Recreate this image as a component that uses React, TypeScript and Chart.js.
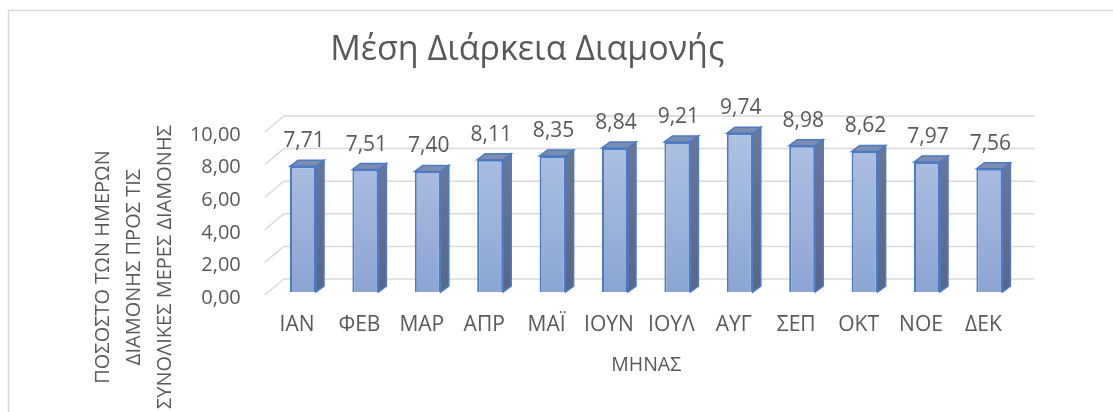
import React, { useEffect, useRef } from "react";
import { Chart, registerables } from "chart.js";

Chart.register(...registerables);

const categories = ["ΙΑΝ", "ΦΕΒ", "ΜΑΡ", "ΑΠΡ", "ΜΑΪ", "ΙΟΥΝ", "ΙΟΥΛ", "ΑΥΓ", "ΣΕΠ", "ΟΚΤ", "ΝΟΕ", "ΔΕΚ"];
const values = [7.71, 7.51, 7.4, 8.11, 8.35, 8.84, 9.21, 9.74, 8.98, 8.62, 7.97, 7.56];
const chartTitle = "Μέση Διάρκεια Διαμονής";
const yTitleLines = ["ΠΟΣΟΣΤΟ ΤΩΝ ΗΜΕΡΩΝ", "ΔΙΑΜΟΝΗΣ ΠΡΟΣ ΤΙΣ", "ΣΥΝΟΛΙΚΕΣ ΜΕΡΕΣ ΔΙΑΜΟΝΗΣ"];
const xTitle = "ΜΗΝΑΣ";
const yMin = 0;
const yMax = 10;
const yStep = 2;

const FONT = "'Open Sans', 'DejaVu Sans', sans-serif";
const TEXT = "#595959";
const GRID = "#d9d9d9";

const fmt = (v: number) => v.toFixed(2).replace(".", ",");

const threeD = {
  id: "threeD",
  beforeDraw(chart: any) {
    const { ctx, width, height } = chart;
    ctx.save();
    ctx.fillStyle = "#ffffff";
    ctx.fillRect(0, 0, width, height);
    ctx.strokeStyle = GRID;
    ctx.lineWidth = 1.5;
    ctx.strokeRect(8.5, 10.5, width + 50, height + 50);
    ctx.restore();
  },
  beforeDatasetsDraw(chart: any) {
    const { ctx, chartArea } = chart;
    const ys = chart.scales.y;
    ctx.save();
    ctx.strokeStyle = GRID;
    ctx.lineWidth = 1.5;
    const fx = chartArea.left - 7;
    for (const t of ys.ticks) {
      const yF = ys.getPixelForValue(t.value);
      ctx.beginPath();
      ctx.moveTo(fx, yF + 3);
      ctx.lineTo(fx + 19, yF - 13);
      ctx.lineTo(chartArea.right + 14, yF - 13);
      ctx.stroke();
    }
    ctx.restore();
  },
  afterDatasetsDraw(chart: any) {
    const { ctx } = chart;
    const meta = chart.getDatasetMeta(0);
    const bdx = 8;
    const bdy = -6;
    ctx.save();
    meta.data.forEach((bar: any, i: number) => {
      const { x, y, base, width } = bar.getProps(["x", "y", "base", "width"], true);
      const l = x - width / 2;
      const r = x + width / 2;
      const sg = ctx.createLinearGradient(0, y, 0, base);
      sg.addColorStop(0, "#66779a");
      sg.addColorStop(1, "#56678a");
      ctx.beginPath();
      ctx.moveTo(r, y);
      ctx.lineTo(r + bdx, y + bdy);
      ctx.lineTo(r + bdx, base + bdy);
      ctx.lineTo(r, base);
      ctx.closePath();
      ctx.fillStyle = sg;
      ctx.fill();
      ctx.strokeStyle = "#4a7bc4";
      ctx.lineWidth = 1.5;
      ctx.stroke();
      ctx.beginPath();
      ctx.moveTo(l, y);
      ctx.lineTo(l + bdx, y + bdy);
      ctx.lineTo(r + bdx, y + bdy);
      ctx.lineTo(r, y);
      ctx.closePath();
      ctx.fillStyle = "#7d8db0";
      ctx.fill();
      ctx.stroke();
      ctx.fillStyle = TEXT;
      ctx.font = `21px ${FONT}`;
      ctx.textAlign = "center";
      ctx.textBaseline = "alphabetic";
      ctx.fillText(fmt(values[i]), x + 1, y + bdy - 13);
    });
    ctx.restore();
  },
  afterDraw(chart: any) {
    const { ctx, chartArea } = chart;
    ctx.save();
    ctx.fillStyle = TEXT;
    ctx.textAlign = "center";
    ctx.textBaseline = "middle";
    ctx.font = `19.5px ${FONT}`;
    ctx.fillText(xTitle, (chartArea.left + chartArea.right) / 2, 365);
    ctx.font = `20px ${FONT}`;
    const xs = [103, 134, 165];
    yTitleLines.forEach((line, i) => {
      ctx.save();
      ctx.translate(xs[i], 267);
      ctx.rotate(-Math.PI / 2);
      ctx.fillText(line, 0, 0);
      ctx.restore();
    });
    ctx.restore();
  },
};

export default function App() {
  const ref = useRef<HTMLCanvasElement | null>(null);
  useEffect(() => {
    if (!ref.current) return;
    const chart = new Chart(ref.current, {
      type: "bar",
      data: {
        labels: categories,
        datasets: [
          {
            data: values,
            backgroundColor: (c: any) => {
              const area = c.chart.chartArea;
              if (!area) return "#9db3da";
              const g = c.chart.ctx.createLinearGradient(0, area.top, 0, area.bottom);
              g.addColorStop(0, "#b0c2e2");
              g.addColorStop(1, "#8ca6d4");
              return g;
            },
            borderColor: "#4a7bc4",
            borderWidth: 2,
            categoryPercentage: 1,
            barPercentage: 0.417,
          },
        ],
      },
      plugins: [threeD],
      options: {
        animation: false,
        responsive: true,
        maintainAspectRatio: false,
        layout: { padding: { left: 34, right: 92.4, top: 0, bottom: 0 } },
        plugins: {
          legend: { display: false },
          tooltip: { enabled: false },
          title: {
            display: true,
            text: chartTitle,
            color: TEXT,
            font: { family: FONT, size: 34, weight: "normal" },
            padding: { top: 30, bottom: 58.2 },
          },
        },
        scales: {
          x: {
            grid: { display: false },
            border: { display: false },
            ticks: { color: TEXT, font: { family: FONT, size: 21 }, padding: 12, labelOffset: -6 },
            afterFit: (s: any) => {
              s.height = 120;
            },
          },
          y: {
            min: yMin,
            max: yMax,
            grid: { display: false },
            border: { display: false },
            ticks: {
              stepSize: yStep,
              color: TEXT,
              font: { family: FONT, size: 20 },
              padding: 23,
              labelOffset: 6,
              callback: (v: any) => fmt(Number(v)),
            },
            afterFit: (s: any) => {
              s.width = 237.8;
            },
          },
        },
      },
    });
    return () => chart.destroy();
  }, []);
  return (
    <div style={{ position: "absolute", left: 0, top: 0, width: 1113, height: 412 }}>
      <canvas ref={ref} />
    </div>
  );
}
